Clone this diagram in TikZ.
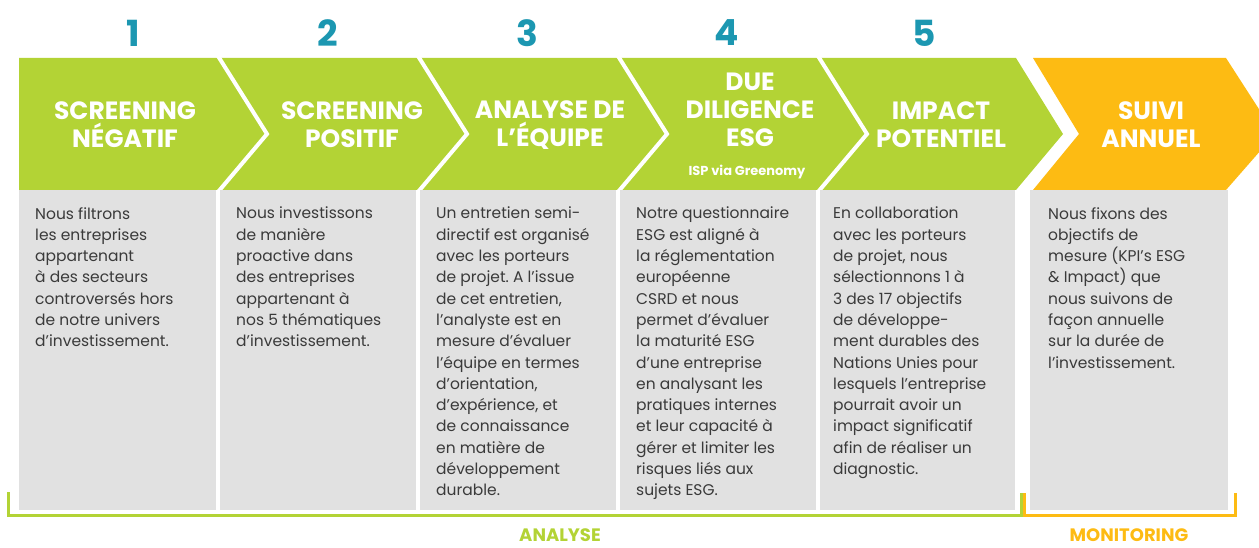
\documentclass[tikz,border=0pt]{standalone}
\usepackage{fontspec}
\setmainfont{Poppins}
\usepackage{tikz}
\usetikzlibrary{positioning, calc}

\definecolor{isgreen}{HTML}{B3D335}
\definecolor{isorange}{HTML}{FDBB13}
\definecolor{isteal}{HTML}{1C97B1}
\definecolor{isgrey}{HTML}{E1E1E1}
\definecolor{istext}{HTML}{3A3A3A}
\frenchspacing

\begin{document}
\begin{tikzpicture}[
    x=1pt, y=-1pt,
    stage/.style={fill=isgreen},
    sep/.style={draw=white, line width=4pt},
    descbox/.style={fill=isgrey},
    num/.style={font=\bfseries\fontsize{36}{40}\selectfont, text=isteal},
    title/.style={font=\bfseries\fontsize{25}{28}\selectfont, text=white, align=center},
    body/.style={anchor=north west, inner sep=0pt, align=left, text=istext, font=\fontsize{15.5}{21.3}\selectfont},
    phase/.style={anchor=base, inner sep=0pt, font=\bfseries\fontsize{18}{20}\selectfont}
]
\useasboundingbox (0,0) rectangle (1259,548);
\clip (0,0) rectangle (1259,548);

% Stages
\fill[stage] (19,58) -- (218,58) -- (267,134) -- (218,190) -- (19,190) -- cycle;
\fill[stage] (218,58) -- (418,58) -- (467,134) -- (418,190) -- (218,190) -- (267,134) -- cycle;
\fill[stage] (418,58) -- (618,58) -- (667,134) -- (618,190) -- (418,190) -- (467,134) -- cycle;
\fill[stage] (618,58) -- (818,58) -- (867,134) -- (818,190) -- (618,190) -- (667,134) -- cycle;
\fill[stage] (818,58) -- (1016,58) -- (1063,134) -- (1016,190) -- (818,190) -- (867,134) -- cycle;
\fill[isorange] (1033,58) -- (1226,58) -- (1275,134) -- (1226,190) -- (1033,190) -- (1079,134) -- cycle;

% Separators
\draw[sep] (218,56) -- (267,134) -- (218,192);
\draw[sep] (418,56) -- (467,134) -- (418,192);
\draw[sep] (618,56) -- (667,134) -- (618,192);
\draw[sep] (818,56) -- (867,134) -- (818,192);

% Description boxes
\fill[descbox] (19,190) rectangle (216,510);
\fill[descbox] (220,190) rectangle (416,510);
\fill[descbox] (420,190) rectangle (616,510);
\fill[descbox] (620,190) rectangle (816,510);
\fill[descbox] (820,190) rectangle (1015,510);
\fill[descbox] (1030,190) rectangle (1228,510);

% Numbers
\node[num] (n1) at (133,33) {1};
\node[num] (n2) at (328,33) {2};
\node[num] (n3) at (527,33) {3};
\node[num] (n4) at (727,33) {4};
\node[num] (n5) at (924,33) {5};

% Titles
\node[title] (t1) at (125,125) {SCREENING\\NÉGATIF};
\node[title] (t2) at (352,125) {SCREENING\\POSITIF};
\node[title] (t3) at (550,125) {ANALYSE DE\\L’ÉQUIPE};
\node[title] (t4) at (750,110) {DUE\\DILIGENCE\\ESG};
\node[font=\bfseries\fontsize{13}{15}\selectfont, text=white] (isp) at (747,172) {ISP via Greenomy};
\node[title] (t5) at (941,125) {IMPACT\\POTENTIEL};
\node[title] (t6) at (1151,125) {SUIVI\\ANNUEL};

% Descriptions
\node[body] (d1) at (35,207) {Nous filtrons\\les entreprises\\appartenant\\à des secteurs\\controversés hors\\de notre univers\\d’investissement.};
\node[body] (d2) at (236,207) {Nous investissons\\de manière\\proactive dans\\des entreprises\\appartenant à\\nos 5 thématiques\\d’investissement.};
\node[body] (d3) at (436,207) {Un entretien semi-\\directif est organisé\\avec les porteurs\\de projet. A l’issue\\de cet entretien,\\l’analyste est en\\mesure d\char39évaluer\\l’équipe en termes\\d’orientation,\\d’expérience, et\\de connaissance\\en matière de\\développement\\durable.};
\node[body] (d4) at (636,207) {Notre questionnaire\\ESG est aligné à\\la réglementation\\européenne\\CSRD et nous\\permet d’évaluer\\la maturité ESG\\d’une entreprise\\en analysant les\\pratiques internes\\et leur capacité à\\gérer et limiter les\\risques liés aux\\sujets ESG.};
\node[body] (d5) at (833,207) {En collaboration\\avec les porteurs\\de projet, nous\\sélectionnons 1 à\\3 des 17 objectifs\\de développe-\\ment durables des\\Nations Unies pour\\lesquels l’entreprise\\pourrait avoir un\\impact significatif\\afin de réaliser un\\diagnostic.};
\node[body] (d6) at (1048,207) {Nous fixons des\\objectifs de\\mesure (KPI’s ESG\\\& Impact) que\\nous suivons de\\façon annuelle\\sur la durée de\\l’investissement.};

% Phases
\draw[isgreen, line width=3pt] (8.5,492) |- (1021,515) -- (1021,493);
\draw[isorange, line width=3pt] (1024.5,493) |- (1235,515) -- (1235,493);
\node[phase, text=isgreen] (ana) at (560,541) {ANALYSE};
\node[phase, text=isorange] (mon) at (1129,541) {MONITORING};

\end{tikzpicture}
\end{document}
